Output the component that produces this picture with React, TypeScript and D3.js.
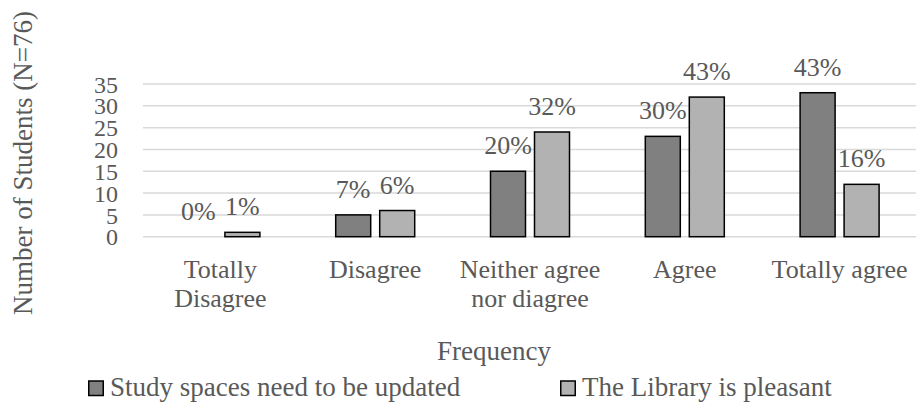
import React, { useEffect, useRef } from 'react';
import * as d3 from 'd3';

const categories = ['Totally Disagree', 'Disagree', 'Neither agree nor diagree', 'Agree', 'Totally agree'];
const seriesNames = ['Study spaces need to be updated', 'The Library is pleasant'];
const studySpaces = [0, 5, 15, 23, 33];
const libraryPleasant = [1, 6, 24, 32, 12];
const studyLabels = ['0%', '7%', '20%', '30%', '43%'];
const libraryLabels = ['1%', '6%', '32%', '43%', '16%'];
const yTicks = [0, 5, 10, 15, 20, 25, 30, 35];
const colors = ['#808080', '#b2b2b2'];

const W = 916;
const H = 403;
const FONT = 'Liberation Serif, Tinos, Times New Roman, Times, DejaVu Serif, serif';
const TEXT = '#595959';

function App() {
  const svgRef = useRef<SVGSVGElement>(null);

  useEffect(() => {
    const svg = d3.select(svgRef.current);
    svg.selectAll('*').remove();

    const x = d3.scaleBand<string>()
      .domain(categories)
      .range([143, 917])
      .padding(0);

    const barW = 35;
    const gap = 9;
    const groupW = barW * 2 + gap;
    const xs = d3.scaleBand<number>()
      .domain([0, 1])
      .range([0, groupW])
      .paddingInner(gap / (barW + gap));

    const y = d3.scaleLinear()
      .domain([0, 35])
      .range([236.7, 84]);

    // gridlines
    svg.append('g')
      .selectAll('line')
      .data(yTicks)
      .enter()
      .append('line')
      .attr('x1', 143)
      .attr('x2', W)
      .attr('y1', d => y(d))
      .attr('y2', d => y(d))
      .attr('stroke', '#d9d9d9')
      .attr('stroke-width', 1.5);

    // y tick labels
    svg.append('g')
      .selectAll('text')
      .data(yTicks)
      .enter()
      .append('text')
      .attr('x', 118)
      .attr('y', d => y(d))
      .attr('dy', '0.36em')
      .attr('text-anchor', 'end')
      .style('font-size', '24px')
      .style('font-family', FONT)
      .attr('fill', TEXT)
      .text(d => d);

    const series = [studySpaces, libraryPleasant];
    const labels = [studyLabels, libraryLabels];
    const off = (x.bandwidth() - groupW) / 2;

    series.forEach((vals, si) => {
      const g = svg.append('g');
      g.selectAll('rect')
        .data(vals.map((v, i) => ({ v, c: categories[i] })).filter(d => d.v > 0))
        .enter()
        .append('rect')
        .attr('x', d => (x(d.c) as number) + off + (xs(si) as number))
        .attr('y', d => y(d.v))
        .attr('width', xs.bandwidth())
        .attr('height', d => y(0) - y(d.v))
        .attr('fill', colors[si])
        .attr('stroke', '#000')
        .attr('stroke-width', 1.5);

      g.selectAll('text')
        .data(vals)
        .enter()
        .append('text')
        .attr('x', (v, i) => (x(categories[i]) as number) + off + (xs(si) as number) + xs.bandwidth() / 2)
        .attr('y', v => y(v) - 17)
        .attr('text-anchor', 'middle')
        .style('font-size', '26px')
        .style('font-family', FONT)
        .attr('fill', TEXT)
        .text((v, i) => labels[si][i]);
    });

    // category labels, wrapped to band width
    const catG = svg.append('g');
    categories.forEach(c => {
      const cx = (x(c) as number) + x.bandwidth() / 2;
      const t = catG.append('text')
        .attr('x', cx)
        .attr('y', 278)
        .attr('text-anchor', 'middle')
        .style('font-size', '26px')
        .style('font-family', FONT)
        .attr('fill', TEXT);
      const words = c.split(' ');
      let line: string[] = [];
      let tspan = t.append('tspan').attr('x', cx).attr('dy', 0);
      words.forEach(w => {
        line.push(w);
        tspan.text(line.join(' '));
        if ((tspan.node() as SVGTSpanElement).getComputedTextLength() > x.bandwidth() - 2 && line.length > 1) {
          line.pop();
          tspan.text(line.join(' '));
          line = [w];
          tspan = t.append('tspan')
            .attr('x', cx)
            .attr('dy', 29)
            .text(w);
        }
      });
    });

    // axis titles
    svg.append('text')
      .attr('transform', 'translate(32,163) rotate(-90)')
      .attr('text-anchor', 'middle')
      .style('font-size', '27px')
      .style('font-family', FONT)
      .attr('fill', TEXT)
      .text('Number of Students (N=76)');

    svg.append('text')
      .attr('x', 494)
      .attr('y', 360)
      .attr('text-anchor', 'middle')
      .style('font-size', '27px')
      .style('font-family', FONT)
      .attr('fill', TEXT)
      .text('Frequency');

    // legend
    const legendX = [88, 560];
    seriesNames.forEach((name, i) => {
      const lg = svg.append('g').attr('transform', `translate(${legendX[i]},0)`);
      lg.append('rect')
        .attr('x', 0.75)
        .attr('y', 381)
        .attr('width', 14.5)
        .attr('height', 14.5)
        .attr('fill', colors[i])
        .attr('stroke', '#000')
        .attr('stroke-width', 1.5);
      lg.append('text')
        .attr('x', 22)
        .attr('y', 396)
        .style('font-size', '27px')
        .style('font-family', FONT)
        .attr('fill', TEXT)
        .text(name);
    });
  }, []);

  return (
    <svg
      ref={svgRef}
      width={W}
      height={H}
      style={{ position: 'absolute', left: 0, top: 0, background: '#fff', fontFamily: FONT }}
    />
  );
}

export default App;
